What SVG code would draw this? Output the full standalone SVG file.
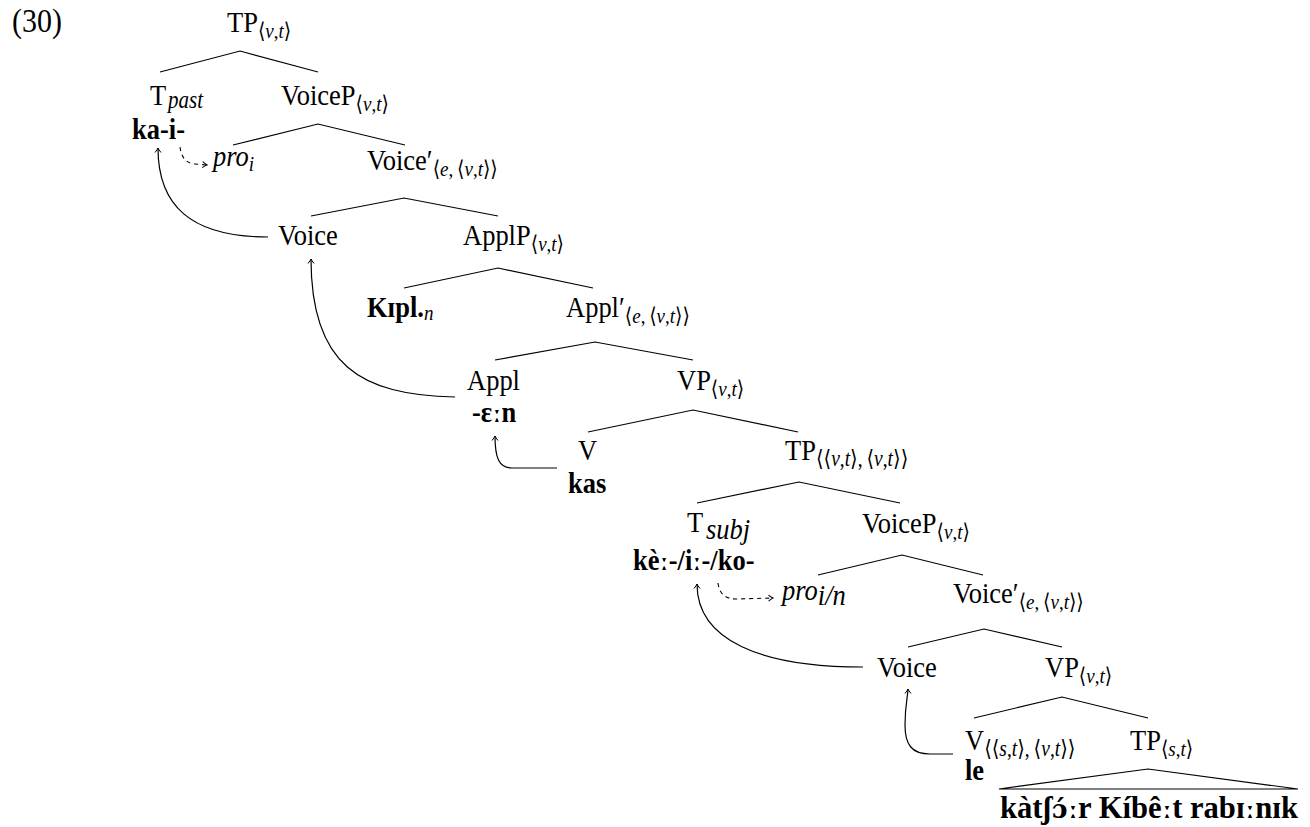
<svg xmlns="http://www.w3.org/2000/svg" width="1310" height="827" viewBox="0 0 1310 827">
<defs>
<style>
text{font-family:"Liberation Serif","DejaVu Serif",serif;font-size:26.5px;fill:#000}
.b{font-weight:bold}
.i{font-style:italic}
.s{font-size:19px}
.n{font-size:19.5px}
.m{font-size:21px;font-style:italic}
.c{font-family:"DejaVu Serif",serif;font-size:25px}
.e{stroke:#000;stroke-width:1.2;fill:none}
.d{stroke:#000;stroke-width:1.1;fill:none;stroke-dasharray:4 4}
</style>
<marker id="ah" viewBox="-6 -4 8 8" markerWidth="8" markerHeight="8" refX="0" refY="0" orient="auto" markerUnits="userSpaceOnUse">
<path d="M-4.5,-3 Q-1.5,-0.6 0,0 Q-1.5,0.6 -4.5,3" stroke="#000" stroke-width="1" fill="none"/>
</marker>
</defs>
<rect width="1310" height="827" fill="#fff"/>
<text transform="translate(12,32) scale(1,1.1)" style="font-size:30px">(30)</text>

<g id="connectors">
<polyline class="e" points="160,72 240,51 318,72"/>
<polyline class="e" points="233,145 318,124 405,145"/>
<polyline class="e" points="311,216 404,198 498,216"/>
<polyline class="e" points="404,288 498,268 593,288"/>
<polyline class="e" points="495,360 595,342 693,360"/>
<polyline class="e" points="588,432 693,410 798,432"/>
<polyline class="e" points="697,503 799,482 900,503"/>
<polyline class="e" points="818,575 902,555 983,575"/>
<polyline class="e" points="908,647 984,629 1062,647"/>
<polyline class="e" points="974,718 1062,697 1148,718"/>
<polygon class="e" points="999,789 1148,769 1298,789"/>
<path class="d" d="M180,147 Q182,163 195,164 L207,165" marker-end="url(#ah)"/>
<path class="d" d="M718,583 Q720,599 736,599 L773,598" marker-end="url(#ah)"/>
<path class="e" d="M268,237 C190,237 158,205 158,148" marker-end="url(#ah)"/>
<path class="e" d="M455,397 C360,395 311,365 311,259" marker-end="url(#ah)"/>
<path class="e" d="M557,468 L512,468 C499,468 495,458 495,436" marker-end="url(#ah)"/>
<path class="e" d="M863,667 C760,667 697,640 697,584" marker-end="url(#ah)"/>
<path class="e" d="M953,754 L930,754 C912,754 905,745 905,725 C905,705 908,695 908,689" marker-end="url(#ah)"/>
</g>

<g id="n-tp1"><text transform="translate(227,32) scale(1,1.15)">TP<tspan class="s" dy="5">⟨<tspan class="i">v</tspan>,<tspan class="i">t</tspan>⟩</tspan></text></g>
<g id="n-tpast"><text transform="translate(150,105) scale(1,1.15)">T<tspan class="m" x="18" y="3">past</tspan></text><text class="b" transform="translate(132,139) scale(1,1.15)">ka-i-</text></g>
<g id="n-voicep1"><text transform="translate(281,105) scale(1,1.15)">VoiceP<tspan class="s" dy="5">⟨<tspan class="i">v</tspan>,<tspan class="i">t</tspan>⟩</tspan></text></g>
<g id="n-pro1"><text class="i" transform="translate(213,166) scale(1,1.15)">pro<tspan class="s" dy="4">i</tspan></text></g>
<g id="n-voicebar1"><text transform="translate(367,170) scale(1,1.15)">Voice′<tspan class="s" dy="5">⟨<tspan class="i">e</tspan>,&#8201;⟨<tspan class="i">v</tspan>,<tspan class="i">t</tspan>⟩⟩</tspan></text></g>
<g id="n-voice1"><text transform="translate(278,245) scale(1,1.15)">Voice</text></g>
<g id="n-applp"><text transform="translate(463,245) scale(1,1.15)">ApplP<tspan class="s" dy="5">⟨<tspan class="i">v</tspan>,<tspan class="i">t</tspan>⟩</tspan></text></g>
<g id="n-kipl"><text class="b" transform="translate(367,317) scale(1,1.15)">Kɪpl.<tspan class="s i" style="font-weight:normal" dy="3">n</tspan></text></g>
<g id="n-applbar"><text transform="translate(566,317) scale(1,1.15)">Appl′<tspan class="s" dy="5">⟨<tspan class="i">e</tspan>,&#8201;⟨<tspan class="i">v</tspan>,<tspan class="i">t</tspan>⟩⟩</tspan></text></g>
<g id="n-appl"><text transform="translate(467,390) scale(1,1.15)">Appl</text><text class="b" transform="translate(472,422) scale(1,1.15)">-ɛ<tspan class="c">ː</tspan>n</text></g>
<g id="n-vp1"><text transform="translate(677,390) scale(1,1.15)">VP<tspan class="s" dy="5">⟨<tspan class="i">v</tspan>,<tspan class="i">t</tspan>⟩</tspan></text></g>
<g id="n-v1"><text transform="translate(578,460) scale(1,1.15)">V</text><text class="b" transform="translate(568,493) scale(1,1.15)">kas</text></g>
<g id="n-tp2"><text transform="translate(785,460) scale(1,1.15)">TP<tspan class="n" dy="5">⟨⟨<tspan class="i">v</tspan>,<tspan class="i">t</tspan>⟩,&#8201;⟨<tspan class="i">v</tspan>,<tspan class="i">t</tspan>⟩⟩</tspan></text></g>
<g id="n-tsubj"><text transform="translate(687,532) scale(1,1.15)">T<tspan class="i" x="19" y="6">subj</tspan></text><text class="b" transform="translate(633,570) scale(1,1.15)">kè<tspan class="c">ː</tspan>-/i<tspan class="c">ː</tspan>-/ko-</text></g>
<g id="n-voicep2"><text transform="translate(862,533) scale(1,1.15)">VoiceP<tspan class="s" dy="5">⟨<tspan class="i">v</tspan>,<tspan class="i">t</tspan>⟩</tspan></text></g>
<g id="n-pro2"><text class="i" transform="translate(782,600) scale(1,1.15)">pro<tspan dy="4">i/n</tspan></text></g>
<g id="n-voicebar2"><text transform="translate(953,603) scale(1,1.15)">Voice′<tspan class="s" dy="5">⟨<tspan class="i">e</tspan>,&#8201;⟨<tspan class="i">v</tspan>,<tspan class="i">t</tspan>⟩⟩</tspan></text></g>
<g id="n-voice2"><text transform="translate(877,677) scale(1,1.15)">Voice</text></g>
<g id="n-vp2"><text transform="translate(1045,677) scale(1,1.15)">VP<tspan class="s" dy="5">⟨<tspan class="i">v</tspan>,<tspan class="i">t</tspan>⟩</tspan></text></g>
<g id="n-v2"><text transform="translate(965,750) scale(1,1.15)">V<tspan class="n" dy="5">⟨⟨<tspan class="i">s</tspan>,<tspan class="i">t</tspan>⟩,&#8201;⟨<tspan class="i">v</tspan>,<tspan class="i">t</tspan>⟩⟩</tspan></text><text class="b" transform="translate(965,780) scale(1,1.15)">le</text></g>
<g id="n-tp3"><text transform="translate(1130,750) scale(1,1.15)">TP<tspan class="s" dy="5">⟨<tspan class="i">s</tspan>,<tspan class="i">t</tspan>⟩</tspan></text></g>
<g id="n-leaf"><text class="b" transform="translate(1000,818) scale(1,1.15)" textLength="298" lengthAdjust="spacingAndGlyphs" style="font-size:27px">kàtʃ<tspan style="font-family:'DejaVu Serif',serif;font-size:23px">ɔ́</tspan><tspan class="c">ː</tspan>r Kíbê<tspan class="c">ː</tspan>t rabɪ<tspan class="c">ː</tspan>nɪk</text></g>
</svg>
